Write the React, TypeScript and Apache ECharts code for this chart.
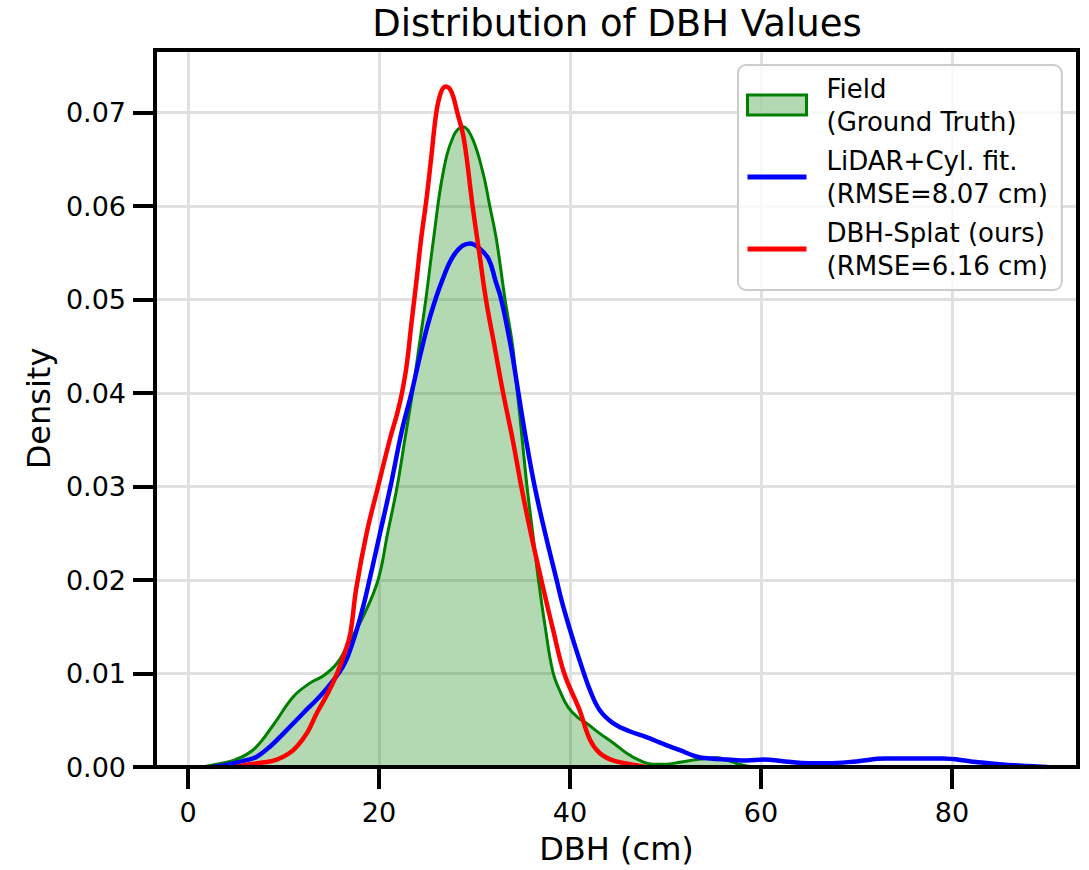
import React, { useEffect, useRef } from 'react';
import * as echarts from 'echarts';

const chartTitle = 'Distribution of DBH Values';
const xAxisName = 'DBH (cm)';
const yAxisName = 'Density';

const seriesNames = [
  'Field\n(Ground Truth)',
  'LiDAR+Cyl. fit.\n(RMSE=8.07 cm)',
  'DBH-Splat (ours)\n(RMSE=6.16 cm)',
];

const xTicks = [0, 20, 40, 60, 80];
const yTicks = [0, 0.01, 0.02, 0.03, 0.04, 0.05, 0.06, 0.07];

// [DBH, density]
const fieldDensity: [number, number][] = [
  [1.5, 0], [3, 0.0003], [5, 0.0008], [7, 0.002], [9, 0.0046], [11, 0.0075],
  [12.8, 0.009], [14.1, 0.0097], [15.6, 0.0111], [17, 0.0136], [18.3, 0.016],
  [19.9, 0.02], [20.9, 0.025], [21.9, 0.03], [22.7, 0.035], [23.5, 0.04],
  [24.2, 0.045], [24.9, 0.05], [25.7, 0.0564], [26.7, 0.0635], [27.8, 0.0675],
  [28.8, 0.0685], [29.8, 0.0672], [30.9, 0.0635], [31.6, 0.06], [32.3, 0.0564],
  [33.2, 0.05], [34.0, 0.045], [34.5, 0.04], [35.0, 0.035], [35.5, 0.03],
  [36.1, 0.025], [36.7, 0.02], [37.4, 0.015], [38.2, 0.0102], [39.0, 0.008],
  [39.8, 0.0064], [40.8, 0.0053], [41.7, 0.0047], [43.1, 0.0036], [44.5, 0.0026],
  [45.9, 0.0015], [47.3, 0.0007], [48.7, 0.0003], [50.0, 0.0003], [51.5, 0.0005],
  [53.3, 0.0008], [55.4, 0.001], [56.8, 0.0006], [58.5, 0.0001], [60, 0],
];

const lidarDensity: [number, number][] = [
  [2.5, 0], [4.4, 0.0003], [6, 0.0007], [7.2, 0.0011], [8.6, 0.0022], [10, 0.0036],
  [12, 0.0057], [14.1, 0.0079], [16.2, 0.0107], [17.3, 0.0135], [18.3, 0.017],
  [19.0, 0.02], [20.1, 0.025], [21.2, 0.03], [22.4, 0.036], [23.4, 0.04],
  [24.3, 0.044], [25.3, 0.048], [26.6, 0.052], [28.0, 0.055], [29.5, 0.056],
  [30.5, 0.0555], [31.5, 0.0543], [32.2, 0.052], [32.8, 0.05], [33.8, 0.045],
  [34.6, 0.04], [35.4, 0.035], [36.3, 0.03], [37.4, 0.025], [38.6, 0.02],
  [39.2, 0.0175], [40.2, 0.014], [41.3, 0.0105], [42.1, 0.0082], [43.1, 0.0061],
  [44.5, 0.0047], [46.3, 0.0038], [48.0, 0.0032], [49.7, 0.0025], [51.5, 0.0018],
  [53.3, 0.0011], [54.7, 0.0009], [56.5, 0.0008], [58.5, 0.0007],
  [60.3, 0.0008], [62.5, 0.0006], [65, 0.0004], [67, 0.0004], [70, 0.0006],
  [73, 0.0009], [76, 0.0009], [79, 0.0009], [82, 0.0006], [85, 0.0003],
  [88, 0.0001], [90, 0],
];

const splatDensity: [number, number][] = [
  [5, 0], [6.5, 0.0003], [8, 0.0005], [9.3, 0.0008], [10.5, 0.0014], [11.4, 0.0022],
  [12.5, 0.0037], [13.5, 0.0058], [14.6, 0.0078], [15.6, 0.01], [16.4, 0.0122],
  [17.0, 0.0143], [17.6, 0.019], [18.7, 0.025], [19.9, 0.03], [21.2, 0.0353],
  [21.9, 0.0378], [22.4, 0.04], [22.9, 0.043], [23.4, 0.0475], [23.9, 0.0518],
  [24.4, 0.0564], [25.0, 0.061], [25.5, 0.0655], [26.0, 0.07], [26.5, 0.0722],
  [27.0, 0.0728], [27.6, 0.0722], [28.2, 0.07], [28.9, 0.0671], [29.8, 0.06],
  [30.5, 0.055], [31.2, 0.05], [32.1, 0.045], [33.0, 0.04], [34.0, 0.035],
  [34.9, 0.03], [35.9, 0.025], [37.0, 0.02], [38.2, 0.0148], [39.4, 0.01],
  [41.0, 0.0061], [42.1, 0.0029], [43.1, 0.0015], [44.5, 0.0007], [46.3, 0.0003], [48, 0],
];

const FONT = 'DejaVu Sans';

export default function App() {
  const ref = useRef<HTMLDivElement>(null);

  useEffect(() => {
    document.body.style.margin = '0';
    const chart = echarts.init(ref.current!, null, { renderer: 'svg' });
    chart.setOption({
      animation: false,
      backgroundColor: '#ffffff',
      textStyle: { fontFamily: FONT },
      grid: {
        left: 155,
        right: 11,
        top: 50,
        bottom: 103,
        show: true,
        backgroundColor: 'transparent',
        borderColor: '#000000',
        borderWidth: 4,
        z: 10,
      },
      graphic: [
        {
          type: 'text',
          x: 617,
          y: 23,
          style: {
            text: chartTitle,
            font: `37px "${FONT}"`,
            fill: '#000000',
            textAlign: 'center',
            textVerticalAlign: 'middle',
          },
        },
      ],
      legend: {
        orient: 'vertical',
        left: 738,
        top: 65,
        data: [
          {
            name: seriesNames[0],
            icon: 'rect',
            itemStyle: { color: 'rgba(0,128,0,0.3)', borderColor: '#008000', borderWidth: 3, opacity: 1 },
          },
          {
            name: seriesNames[1],
            icon: 'path://M0,0H60V5H0Z',
            itemStyle: { color: '#0000ff', borderWidth: 0, opacity: 1 },
          },
          {
            name: seriesNames[2],
            icon: 'path://M0,0H60V5H0Z',
            itemStyle: { color: '#ff0000', borderWidth: 0, opacity: 1 },
          },
        ],
        itemWidth: 59,
        itemHeight: 20,
        itemGap: 6,
        selectedMode: false,
        textStyle: {
          fontFamily: FONT,
          fontSize: 26,
          lineHeight: 33,
          color: '#000000',
          padding: [0, 0, 0, 15],
        },
        backgroundColor: 'rgba(255,255,255,0.8)',
        borderColor: '#cccccc',
        borderWidth: 2,
        borderRadius: 8,
        padding: [7, 14, 8, 8],
        z: 20,
      },
      xAxis: {
        type: 'value',
        min: -3.46,
        max: 93.2,
        splitNumber: 5,
        name: xAxisName,
        nameLocation: 'middle',
        nameGap: 66,
        nameTextStyle: { fontFamily: FONT, fontSize: 32, color: '#000000' },
        axisLine: { show: false, onZero: false },
        axisTick: {
          show: true,
          length: 22,
          customValues: xTicks,
          lineStyle: { color: '#000000', width: 4 },
        },
        axisLabel: {
          customValues: xTicks,
          fontFamily: FONT,
          fontSize: 27,
          color: '#000000',
          margin: 32,
        },
        splitLine: { show: true, lineStyle: { color: '#e0e0e0', width: 3 } },
      },
      yAxis: {
        type: 'value',
        min: 0,
        max: 0.0767,
        interval: 0.01,
        name: yAxisName,
        nameLocation: 'middle',
        nameGap: 100,
        nameTextStyle: { fontFamily: FONT, fontSize: 32, color: '#000000' },
        axisLine: { show: false, onZero: false },
        axisTick: {
          show: true,
          length: 22,
          customValues: yTicks,
          lineStyle: { color: '#000000', width: 4 },
        },
        axisLabel: {
          customValues: yTicks,
          fontFamily: FONT,
          fontSize: 27,
          color: '#000000',
          margin: 29,
          formatter: (v: number) => v.toFixed(2),
        },
        splitLine: { show: true, lineStyle: { color: '#e0e0e0', width: 3 } },
      },
      series: [
        {
          name: seriesNames[0],
          type: 'line',
          data: fieldDensity,
          smooth: 0.4,
          symbol: 'none',
          z: 3,
          lineStyle: { color: '#008000', width: 3 },
          itemStyle: { color: '#008000' },
          areaStyle: { color: 'rgba(0,128,0,0.3)', opacity: 1, origin: 'start' },
        },
        {
          name: seriesNames[1],
          type: 'line',
          data: lidarDensity,
          smooth: 0.4,
          symbol: 'none',
          z: 4,
          lineStyle: { color: '#0000ff', width: 4.5 },
          itemStyle: { color: '#0000ff' },
        },
        {
          name: seriesNames[2],
          type: 'line',
          data: splatDensity,
          smooth: 0.4,
          symbol: 'none',
          z: 5,
          lineStyle: { color: '#ff0000', width: 4.5 },
          itemStyle: { color: '#ff0000' },
        },
      ],
    });
    return () => chart.dispose();
  }, []);

  return <div ref={ref} style={{ width: 1089, height: 870 }} />;
}
